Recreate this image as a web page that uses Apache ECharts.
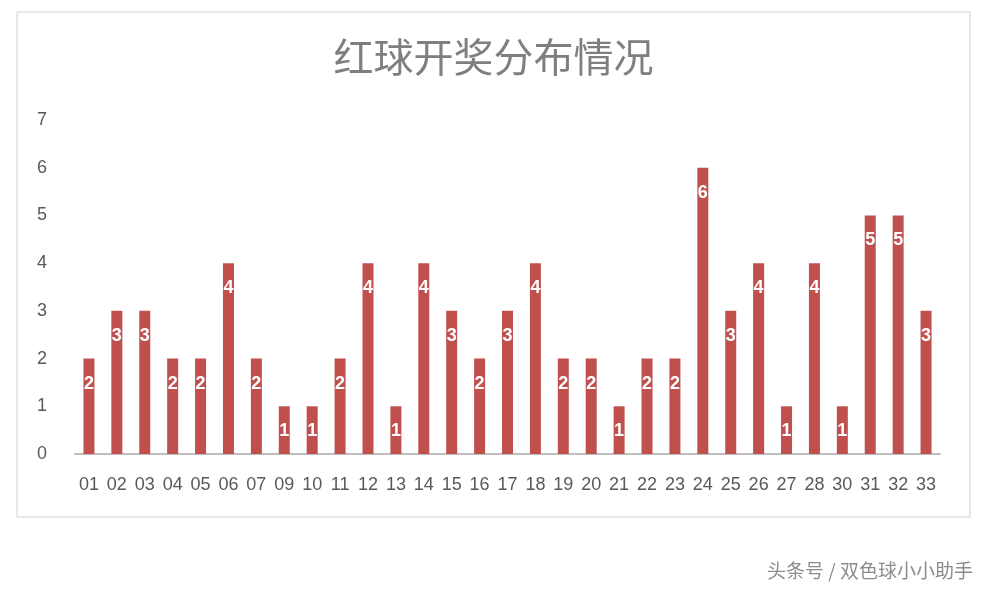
<!DOCTYPE html>
<html>
<head>
<meta charset="utf-8">
<script src="https://cdn.jsdelivr.net/npm/echarts@6/dist/echarts.min.js"></script>
<style>html,body{margin:0;padding:0;background:#fff}#main{width:987px;height:591px}</style>
</head>
<body>
<div id="main"></div>
<script>
// 号码 / 出现次数
const balls = ["01","02","03","04","05","06","07","09","10","11","12","13","14","15","16","17","18","19","20","21","22","23","24","25","26","27","28","30","31","32","33"];
const counts = [2,3,3,2,2,4,2,1,1,2,4,1,4,3,2,3,4,2,2,1,2,2,6,3,4,1,4,1,5,5,3];
const yTicks = [0, 7, 1];

const chart = echarts.init(document.getElementById("main"));
chart.setOption({
  animation: false,
  title: {
    text: "红球开奖分布情况",
    left: "center",
    top: 32,
    textStyle: { fontFamily: "Noto Sans CJK SC", fontSize: 40, fontWeight: "normal", color: "#7f7f7f" }
  },
  graphic: [
    { type: "rect", shape: { x: 17, y: 12, width: 953, height: 505 }, style: { fill: "none", stroke: "#d0d0d0", lineWidth: 1 } },
    { type: "text", right: 14, top: 561, style: { text: "头条号 / 双色球小小助手", fontSize: 19, fill: "#8c8c8c", fontFamily: "Noto Sans CJK SC" } }
  ],
  grid: { left: 75, right: 47, top: 120, bottom: 137 },
  xAxis: {
    type: "category",
    data: balls,
    axisLine: { lineStyle: { color: "#bfbfbf", width: 2 } },
    axisTick: { show: false },
    axisLabel: { color: "#595959", fontSize: 18, margin: 22, interval: 0 }
  },
  yAxis: {
    type: "value",
    min: yTicks[0], max: yTicks[1], interval: yTicks[2],
    axisLine: { show: false },
    axisTick: { show: false },
    splitLine: { show: false },
    axisLabel: { color: "#595959", fontSize: 18, margin: 28 }
  },
  series: [{
    type: "bar",
    data: counts,
    barWidth: 11,
    itemStyle: { color: "#C0504D" },
    label: { show: true, position: "insideTop", distance: 16, color: "#fff", fontWeight: "bold", fontSize: 18 }
  }]
});
</script>
</body>
</html>
